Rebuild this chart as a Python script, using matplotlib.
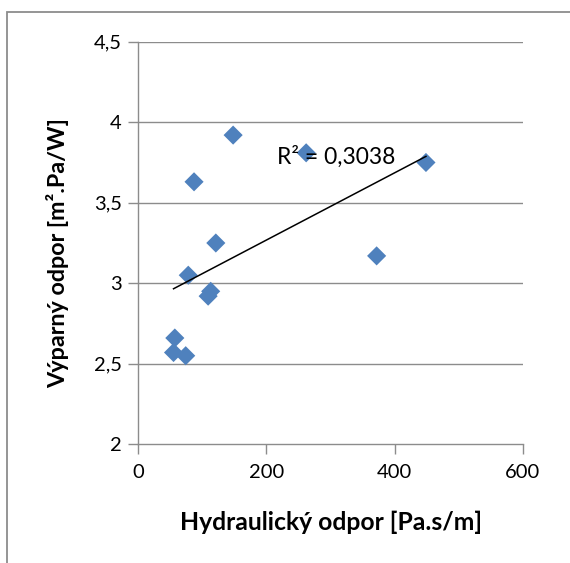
import numpy as np
import matplotlib
matplotlib.use("Agg")
import matplotlib.pyplot as plt
from matplotlib.patches import Rectangle

plt.rcParams['font.family'] = ['Lato', 'DejaVu Sans']

# Measured samples
hydraulic = [148, 262, 449, 87, 121, 372, 78, 113, 109, 57, 55, 74]
evaporative = [3.92, 3.81, 3.75, 3.63, 3.25, 3.17, 3.05, 2.95, 2.92, 2.66, 2.57, 2.55]

x_ticks = [0, 200, 400, 600]
y_ticks = [2, 2.5, 3, 3.5, 4, 4.5]
y_tick_labels = ["2", "2,5", "3", "3,5", "4", "4,5"]
r2_label = "R² = 0,3038"

W, H = 570, 563
fig = plt.figure(figsize=(W / 100, H / 100), dpi=100)
ax = fig.add_axes([138.3 / W, 1 - 444.3 / H, (522.7 - 138.3) / W, (444.3 - 41.7) / H])

# outer chart-area frame
fig.patches.append(Rectangle((6.5 / W, -0.1), 1.2, 1 - 12.5 / H + 0.1,
                             transform=fig.transFigure, fill=False,
                             edgecolor='#8c8c8c', linewidth=1.3))

grid_c = '#8c8c8c'
ax.set_xlim(0, 600)
ax.set_ylim(2, 4.5)
ax.set_yticks(y_ticks)
ax.set_yticklabels(y_tick_labels)
ax.set_xticks(x_ticks)
for y in y_ticks[1:]:
    ax.axhline(y, color=grid_c, linewidth=1.0, zorder=0)

for s in ['top', 'right']:
    ax.spines[s].set_visible(False)
for s in ['left', 'bottom']:
    ax.spines[s].set_color(grid_c)
    ax.spines[s].set_linewidth(1.0)
ax.tick_params(axis='both', colors=grid_c, length=7, width=1.0,
               labelcolor='black', labelsize=14.5, pad=5)
ax.tick_params(axis='x', pad=7)

ax.scatter(hydraulic, evaporative, marker='D', s=95, color='#4f81bd',
           edgecolors='none', zorder=3, clip_on=False)

# linear trend line over the data range
xs = np.array(hydraulic, dtype=float)
ys = np.array(evaporative, dtype=float)
k, q = np.polyfit(xs, ys, 1)
xl = np.array([xs.min(), xs.max()])
ax.plot(xl, k * xl + q, color='black', linewidth=1.1, zorder=4)

ax.text(216, 3.784, r2_label, fontsize=16.5, va='center', ha='left', zorder=5)

fig.text(331 / W, 1 - 522 / H, "Hydraulický odpor [Pa.s/m]", fontsize=17.8,
         fontweight='bold', ha='center', va='center')
fig.text(57.5 / W, 1 - 253.5 / H, "Výparný odpor [m².Pa/W]", fontsize=16.8,
         fontweight='bold', ha='center', va='center', rotation=90)

fig.savefig("out.png", dpi=100)
